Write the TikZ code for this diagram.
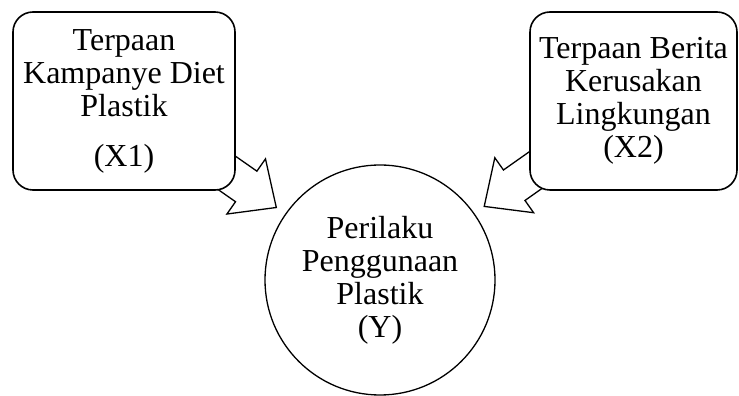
\documentclass[tikz,border=0pt]{standalone}
\usepackage{fontspec}
\setmainfont{Liberation Serif}
\usetikzlibrary{shapes.arrows, backgrounds}

\begin{document}
\begin{tikzpicture}[x=1pt, y=1pt,
    varbox/.style = {draw, line width=1.6pt, rounded corners=20pt, fill=white,
                     minimum width=#1, minimum height=178pt, align=center,
                     font=\fontsize{32}{33}\selectfont},
    varcircle/.style = {draw, circle, line width=1.3pt, minimum size=230pt,
                        align=center, font=\fontsize{32}{33}\selectfont},
    blockarrow/.style = {draw, fill=white, line width=1.3pt, single arrow,
                         inner xsep=0pt, inner ysep=18pt, minimum height=125pt,
                         single arrow head extend=15pt, single arrow tip angle=85,
                         sloped, allow upside down, anchor=tip}]
    \useasboundingbox (0,0) rectangle (739,396);

    \node (x1) [varbox=222pt] at (124,295) {Terpaan\\Kampanye Diet\\Plastik\\[17pt](X1)};
    \node (x2) [varbox=207pt] at (633.5,295) {Terpaan Berita\\Kerusakan\\Lingkungan\\(X2)};
    \node (y) [varcircle] at (380,116) {Perilaku\\Penggunaan\\Plastik\\(Y)};

    \begin{scope}[on background layer]
        \path (x1.center) -- (y.center) node [blockarrow, pos=0.598] {};
        \path (x2.center) -- (y.center) node [blockarrow, pos=0.592] {};
    \end{scope}
\end{tikzpicture}
\end{document}
